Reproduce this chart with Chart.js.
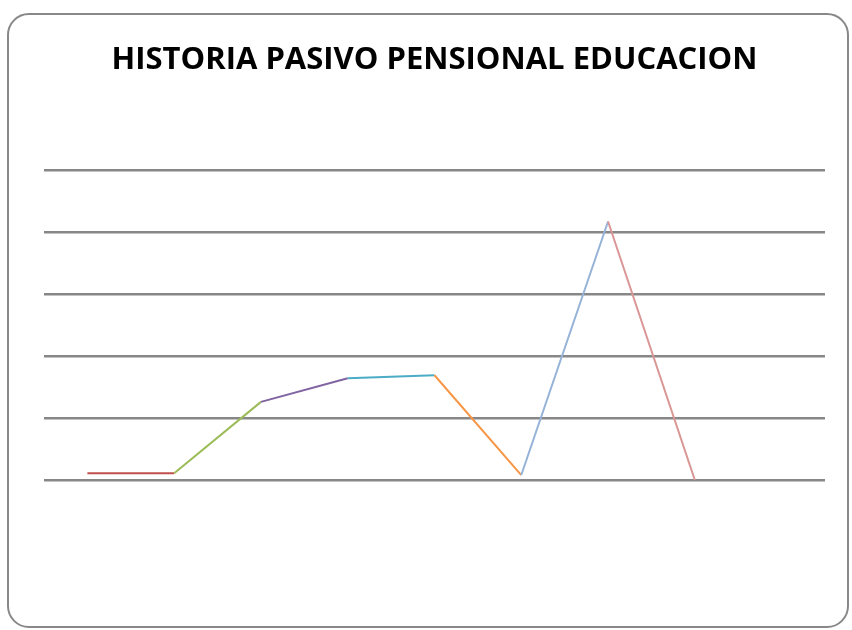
<!DOCTYPE html>
<html>
<head>
<meta charset="utf-8">
<title>Historia pasivo pensional educacion</title>
<script src="https://cdn.jsdelivr.net/npm/chart.js@4.4.1/dist/chart.umd.min.js"></script>
<style>
  body { margin: 0; background: #fff; }
  #caja { position: relative; width: 852px; height: 630px; overflow: hidden; }
  #grafico { position: absolute; left: 0; top: 0; }
  #marco {
    position: absolute; left: 7px; top: 13px; width: 842px; height: 615px;
    box-sizing: border-box; border: 2px solid #888; border-radius: 22px;
    pointer-events: none;
  }
</style>
</head>
<body>
<div id="caja">
  <canvas id="grafico" width="852" height="630"></canvas>
  <div id="marco"></div>
</div>
<script>
// --- Datos del gráfico ---
const categorias = ['1', '2', '3', '4', '5', '6', '7', '8', '9'];
const valores = [0.11, 0.11, 1.26, 1.64, 1.69, 0.08, 4.17, 0, null];
const marcasEje = [0, 1, 2, 3, 4, 5];

// Color de cada tramo de la línea
const coloresTramo = ['#C0504D', '#9BBB59', '#8064A2', '#4BACC6', '#F79646', '#95B3D7', '#D99694', '#C0504D'];

const ctx = document.getElementById('grafico').getContext('2d');

new Chart(ctx, {
    type: 'line',
    data: {
        labels: categorias,
        datasets: [{
            data: valores,
            borderWidth: 2,
            pointRadius: 0,
            tension: 0,
            borderColor: coloresTramo[0],
            segment: {
                borderColor: c => coloresTramo[c.p0DataIndex]
            }
        }]
    },
    options: {
        responsive: false,
        animation: false,
        layout: { padding: { left: 44, right: 27, top: 0, bottom: 150 } },
        plugins: {
            legend: { display: false },
            tooltip: { enabled: false },
            title: {
                display: true,
                text: 'HISTORIA PASIVO PENSIONAL EDUCACION',
                color: '#000',
                font: { family: 'Open Sans', size: 31, weight: 'bold', lineHeight: 1.2 },
                padding: { top: 42, bottom: 90.8 }
            }
        },
        scales: {
            x: {
                display: false,
                offset: true
            },
            y: {
                min: marcasEje[0],
                max: marcasEje[marcasEje.length - 1],
                afterBuildTicks: escala => {
                    escala.ticks = marcasEje.map(v => ({ value: v }));
                },
                border: { display: false },
                ticks: { display: false },
                grid: { color: '#878787', lineWidth: 2.5, drawTicks: false }
            }
        }
    }
});
</script>
</body>
</html>
